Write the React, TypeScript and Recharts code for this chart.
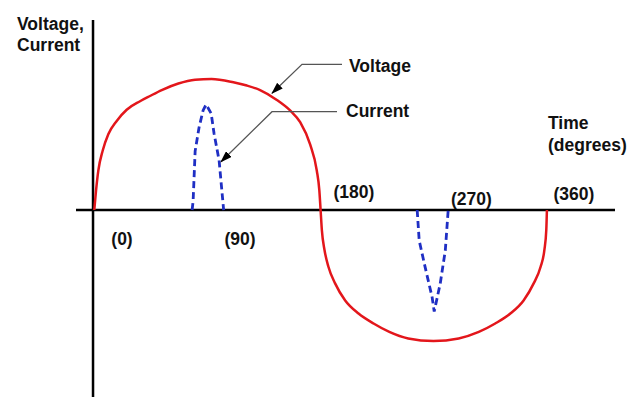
import React from "react";
import { LineChart, Line, XAxis, YAxis, ReferenceLine, ReferenceDot } from "recharts";

// Voltage (red), degrees vs relative amplitude
const voltageDegrees = [1, 2.4, 4.2, 7.7, 12.2, 18.8, 26.7, 37.3, 45.2, 54.5, 67.7, 81, 94, 111.3, 122, 132.5, 145.8, 156.3, 164.3, 172.2, 177.5, 179.5, 180.5, 181.5, 183.6, 186.7, 192, 200, 210.6, 222.5, 235, 250, 270, 290, 306, 319, 331, 341.5, 349.5, 355, 358, 359.5, 360];
const voltageValues = [0, 0.149, 0.3, 0.454, 0.58, 0.68, 0.765, 0.83, 0.87, 0.915, 0.965, 0.994, 1.0, 0.975, 0.95, 0.915, 0.84, 0.76, 0.67, 0.5, 0.3, 0.15, 0, -0.153, -0.305, -0.433, -0.56, -0.69, -0.79, -0.866, -0.93, -0.98, -1.0, -0.98, -0.93, -0.866, -0.79, -0.69, -0.56, -0.433, -0.305, -0.153, 0];

// Current (blue dashed) – two pulses
const currentPosDegrees = [78.6, 79.4, 81, 84.1, 87.3, 89.7, 93.7, 96, 100, 103.6];
const currentPosValues = [0, 0.07, 0.45, 0.63, 0.76, 0.805, 0.737, 0.584, 0.378, 0];
const currentNegDegrees = [257.1, 258.7, 263.5, 269, 270.6, 275.4, 279.4, 281.7];
const currentNegValues = [0, -0.233, -0.44, -0.668, -0.775, -0.56, -0.309, 0];

// Tick labels along the time axis
const tickValues = [0, 90, 180, 270, 360];
const tickLabels = ["(0)", "(90)", "(180)", "(270)", "(360)"];

type Row = { x: number; voltage?: number | null; currentPos?: number | null; currentNeg?: number | null };
const buildTable = (): Row[] => {
  const map = new Map<number, Row>();
  const add = (xs: number[], ys: number[], key: "voltage" | "currentPos" | "currentNeg") => {
    xs.forEach((x, i) => {
      const r = map.get(x) || { x };
      r[key] = ys[i];
      map.set(x, r);
    });
  };
  add(voltageDegrees, voltageValues, "voltage");
  add(currentPosDegrees, currentPosValues, "currentPos");
  add(currentNegDegrees, currentNegValues, "currentNeg");
  return Array.from(map.values()).sort((a, b) => a.x - b.x);
};
const chartData = buildTable();

const tickOffsets = [
  { dx: 29, dy: 35 },
  { dx: 33.5, dy: 35 },
  { dx: 34, dy: -12 },
  { dx: 38, dy: -5 },
  { dx: 27, dy: -10 },
];

const FONT = "'Liberation Sans', Arial, sans-serif";
const textStyle = { fontFamily: FONT, fontWeight: 700, fontSize: 17.5, fill: "#111" } as const;

const makeTickLabel = (label: string, dx: number, dy: number) => (props: any) => {
  const vb = props.viewBox || {};
  const cx = (vb.x ?? 0) + (vb.width ?? 0) / 2;
  const cy = (vb.y ?? 0) + (vb.height ?? 0) / 2;
  return (
    <text x={cx + dx} y={cy + dy} textAnchor="middle" style={textStyle}>
      {label}
    </text>
  );
};

export default function App() {
  return (
    <div style={{ position: "absolute", left: 0, top: 0, width: 640, height: 397, background: "#fff" }}>
      <LineChart width={640} height={397} data={chartData} margin={{ top: 20, right: 25, bottom: 0, left: 76 }}>
        <XAxis dataKey="x" type="number" domain={[-13.5, 414]} allowDataOverflow hide />
        <YAxis type="number" domain={[-1.427, 1.45]} allowDataOverflow hide />
        <ReferenceLine x={0} stroke="#000" strokeWidth={2.5} />
        <ReferenceLine y={0} stroke="#000" strokeWidth={2.5} />
        <Line dataKey="voltage" type="monotone" connectNulls stroke="#e3161b" strokeWidth={2.5} strokeLinejoin="round" dot={false} isAnimationActive={false} />
        <Line dataKey="currentPos" type="linear" connectNulls stroke="#1f2fc4" strokeWidth={2.8} strokeDasharray="7 4" dot={false} isAnimationActive={false} />
        <Line dataKey="currentNeg" type="linear" connectNulls stroke="#1f2fc4" strokeWidth={2.8} strokeDasharray="7 4" dot={false} isAnimationActive={false} />
        {tickValues.map((t, i) => (
          <ReferenceDot
            key={t}
            x={t}
            y={0}
            r={1}
            fill="none"
            stroke="none"
            label={makeTickLabel(tickLabels[i], tickOffsets[i].dx, tickOffsets[i].dy)}
          />
        ))}
      </LineChart>
      <svg width={640} height={397} style={{ position: "absolute", left: 0, top: 0, pointerEvents: "none" }}>
        <defs>
          <marker id="arrowHead" viewBox="0 0 12 8" refX="11" refY="4" markerWidth="12" markerHeight="8" markerUnits="userSpaceOnUse" orient="auto">
            <path d="M0,0 L12,4 L0,8 z" fill="#000" />
          </marker>
        </defs>
        <text x={17} y={30} style={textStyle}>Voltage,</text>
        <text x={17} y={51} style={textStyle}>Current</text>
        <text x={548} y={129} style={textStyle}>Time</text>
        <text x={548} y={151} style={textStyle}>(degrees)</text>
        <text x={349} y={72} style={textStyle}>Voltage</text>
        <text x={346} y={117} style={textStyle}>Current</text>
        <polyline points="342,64.3 302,64.3 272,93.3" fill="none" stroke="#555" strokeWidth={1.3} markerEnd="url(#arrowHead)" />
        <polyline points="337,111.7 272,111.7 221,161.7" fill="none" stroke="#555" strokeWidth={1.3} markerEnd="url(#arrowHead)" />
      </svg>
    </div>
  );
}
